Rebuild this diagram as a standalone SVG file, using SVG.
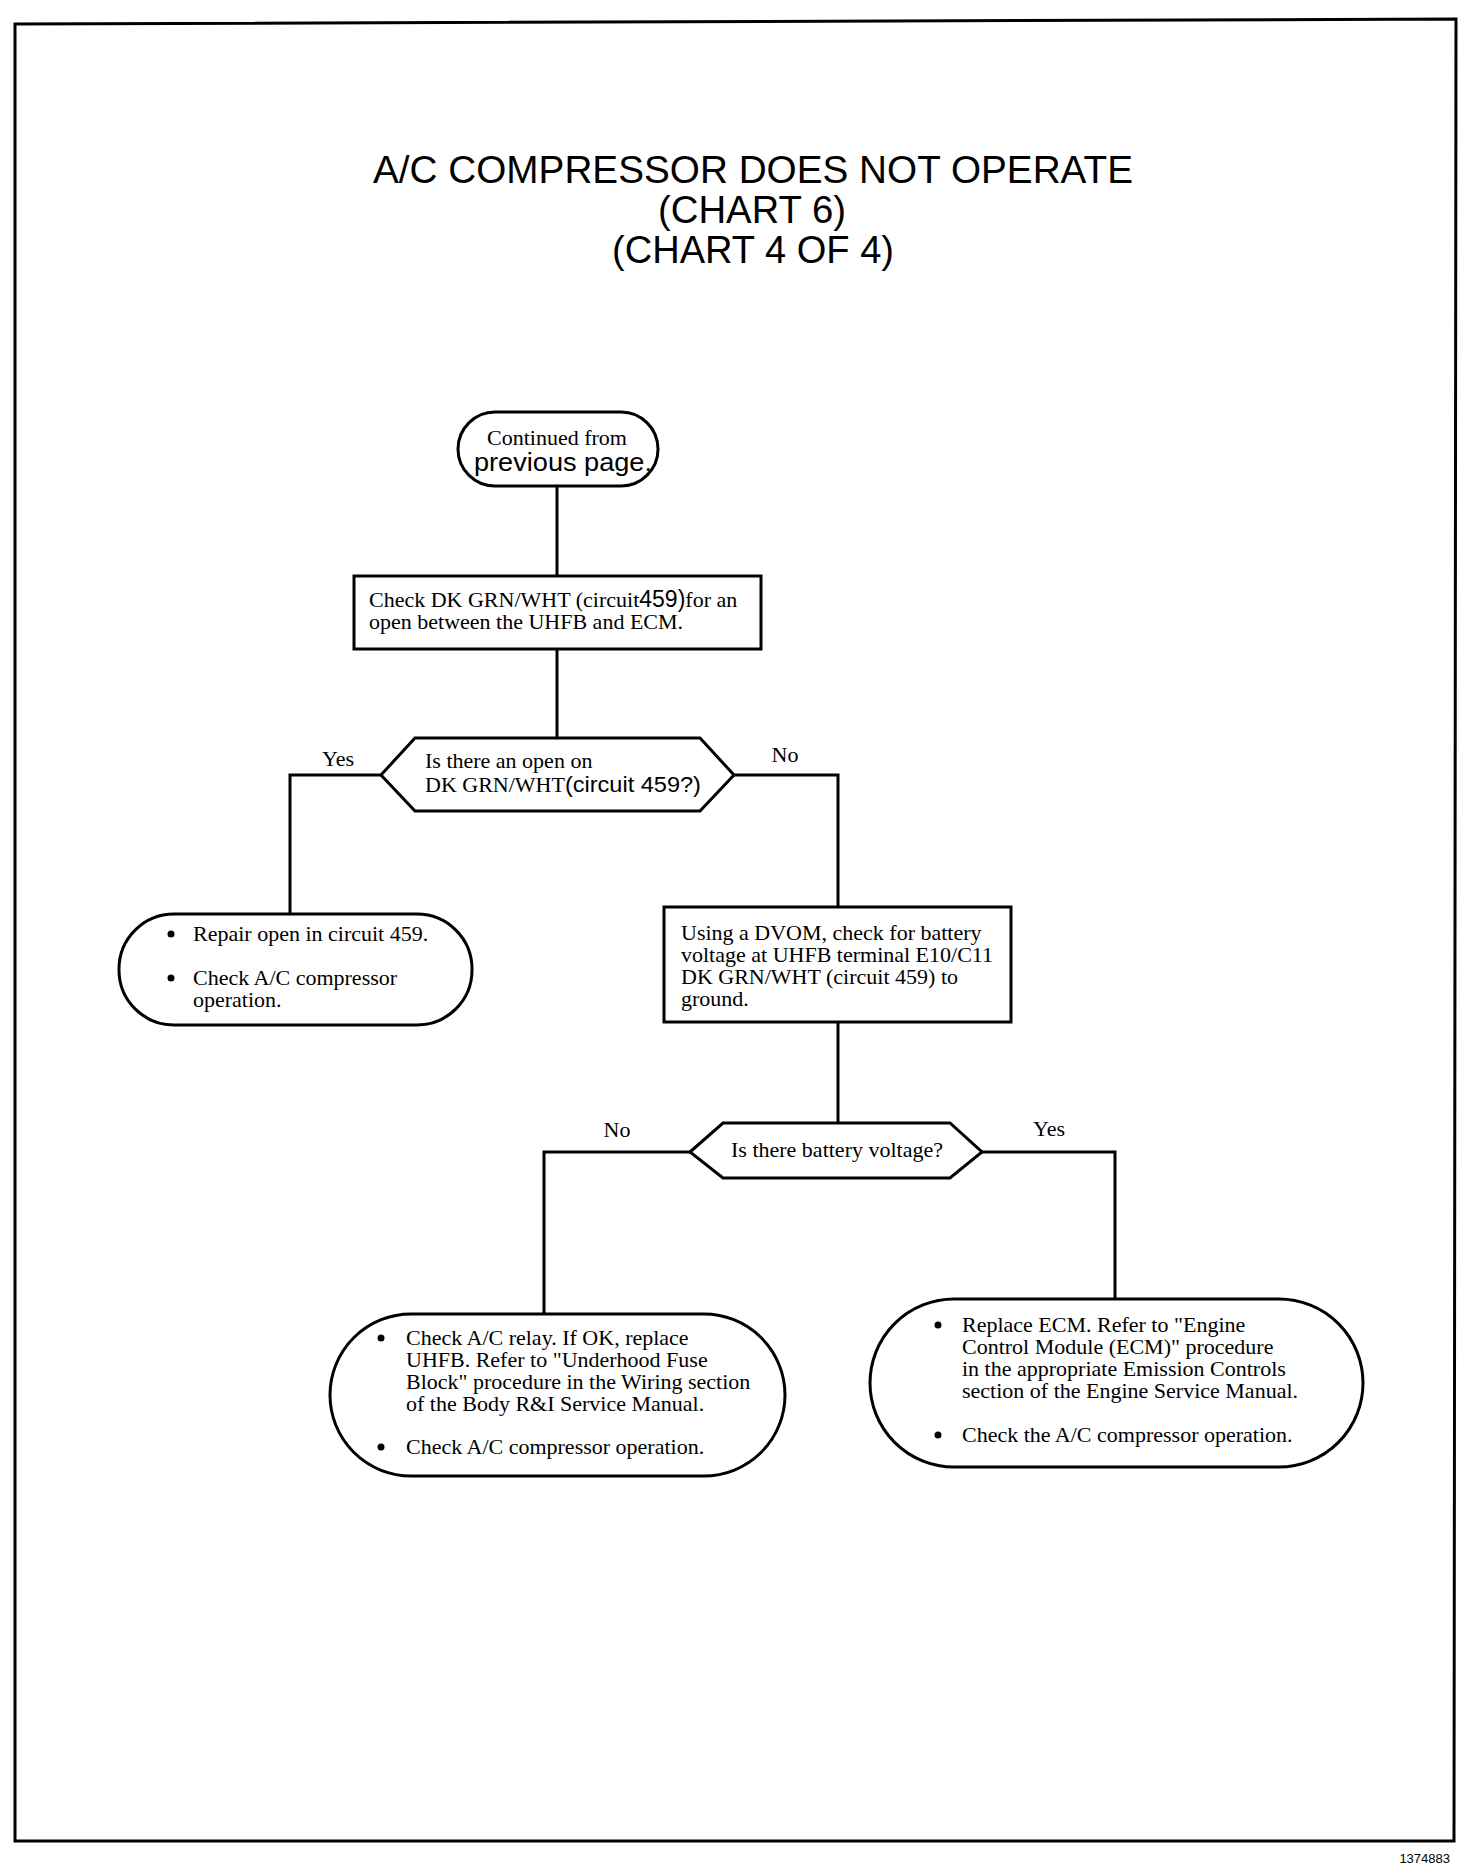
<svg xmlns="http://www.w3.org/2000/svg" width="1472" height="1874" viewBox="0 0 1472 1874">
<style>
.shape{fill:#fff;stroke:#000;stroke-width:3}
.conn{fill:none;stroke:#000;stroke-width:3}
.t{font-family:"Liberation Serif","Times New Roman",serif;font-size:22px;fill:#000}
.h{font-family:"Liberation Sans",Arial,sans-serif;fill:#000}
.title{font-family:"Liberation Sans",Arial,sans-serif;font-size:39px;fill:#000;text-anchor:middle}
</style>
<rect width="1472" height="1874" fill="#fff"/>
<path d="M15,24 L1456,19 L1454,1841 L15,1841 Z" fill="none" stroke="#000" stroke-width="3"/>
<g id="title">
<text class="title" x="753" y="183" textLength="760" lengthAdjust="spacingAndGlyphs">A/C COMPRESSOR DOES NOT OPERATE</text>
<text class="title" x="752" y="223" textLength="188" lengthAdjust="spacingAndGlyphs">(CHART 6)</text>
<text class="title" x="753" y="263" textLength="282" lengthAdjust="spacingAndGlyphs">(CHART 4 OF 4)</text>
</g>
<g id="connectors">
<path class="conn" d="M557,486 V576"/>
<path class="conn" d="M557,649 V738"/>
<path class="conn" d="M381,775 H290 V914" stroke-width="4"/>
<path class="conn" d="M734,775 H838 V907"/>
<path class="conn" d="M838,1022 V1123"/>
<path class="conn" d="M690,1152 H544 V1314"/>
<path class="conn" d="M982,1152 H1115 V1299" stroke-width="4"/>
</g>
<g id="labels">
<text class="t" x="338" y="766" text-anchor="middle">Yes</text>
<text class="t" x="785" y="762" text-anchor="middle">No</text>
<text class="t" x="617" y="1137" text-anchor="middle">No</text>
<text class="t" x="1049" y="1136" text-anchor="middle">Yes</text>
</g>
<g id="start">
<rect class="shape" x="458" y="412" width="200" height="74" rx="37"/>
<text class="t" x="557" y="445" text-anchor="middle">Continued from</text>
<text class="h" x="563" y="471" font-size="25" text-anchor="middle" textLength="178" lengthAdjust="spacingAndGlyphs">previous page.</text>
</g>
<g id="check-open">
<rect class="shape" x="354" y="576" width="407" height="73"/>
<text class="t" x="369" y="607">Check DK GRN/WHT (circuit<tspan class="h" font-size="23">459)</tspan>for an</text>
<text class="t" x="369" y="629">open between the UHFB and ECM.</text>
</g>
<g id="decision-open">
<polygon class="shape" points="381,775 415,738 700,738 734,775 700,811 415,811"/>
<text class="t" x="425" y="768">Is there an open on</text>
<text class="t" x="425" y="792">DK GRN/WHT<tspan class="h" font-size="22" textLength="136" lengthAdjust="spacingAndGlyphs">(circuit 459?)</tspan></text>
</g>
<g id="repair-open">
<rect class="shape" x="119" y="914" width="353" height="111" rx="55"/>
<circle cx="171" cy="934" r="3.5"/>
<text class="t" x="193" y="941">Repair open in circuit 459.</text>
<circle cx="171" cy="978" r="3.5"/>
<text class="t" x="193" y="985">Check A/C compressor</text>
<text class="t" x="193" y="1007">operation.</text>
</g>
<g id="dvom-check">
<rect class="shape" x="664" y="907" width="347" height="115"/>
<text class="t" x="681" y="940">Using a DVOM, check for battery</text>
<text class="t" x="681" y="962">voltage at UHFB terminal E10/C11</text>
<text class="t" x="681" y="984">DK GRN/WHT (circuit 459) to</text>
<text class="t" x="681" y="1006">ground.</text>
</g>
<g id="decision-voltage">
<polygon class="shape" points="690,1152 723,1123 950,1123 982,1152 950,1178 723,1178"/>
<text class="t" x="837" y="1157" text-anchor="middle">Is there battery voltage?</text>
</g>
<g id="replace-uhfb">
<rect class="shape" x="330" y="1314" width="455" height="162" rx="81"/>
<circle cx="381" cy="1338" r="3.5"/>
<text class="t" x="406" y="1345">Check A/C relay. If OK, replace</text>
<text class="t" x="406" y="1367">UHFB. Refer to "Underhood Fuse</text>
<text class="t" x="406" y="1389">Block" procedure in the Wiring section</text>
<text class="t" x="406" y="1411">of the Body R&amp;I Service Manual.</text>
<circle cx="381" cy="1447" r="3.5"/>
<text class="t" x="406" y="1454">Check A/C compressor operation.</text>
</g>
<g id="replace-ecm">
<rect class="shape" x="870" y="1299" width="493" height="168" rx="84"/>
<circle cx="938" cy="1325" r="3.5"/>
<text class="t" x="962" y="1332">Replace ECM. Refer to "Engine</text>
<text class="t" x="962" y="1354">Control Module (ECM)" procedure</text>
<text class="t" x="962" y="1376">in the appropriate Emission Controls</text>
<text class="t" x="962" y="1398">section of the Engine Service Manual.</text>
<circle cx="938" cy="1435" r="3.5"/>
<text class="t" x="962" y="1442">Check the A/C compressor operation.</text>
</g>
<text class="h" x="1450" y="1863" font-size="13" text-anchor="end">1374883</text>
</svg>
